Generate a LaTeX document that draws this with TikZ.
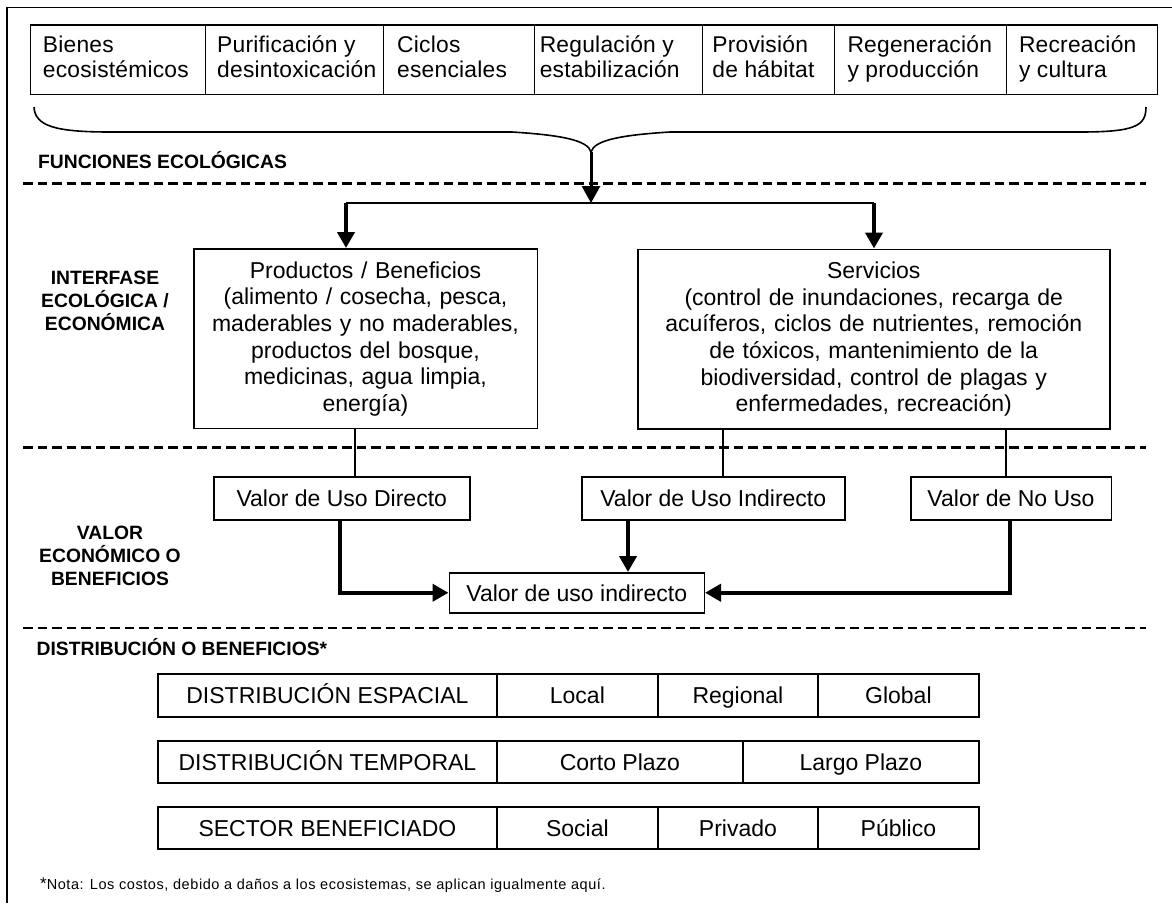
\documentclass[tikz,border=0pt]{standalone}
\usepackage{fontspec}
\setmainfont{Liberation Sans}
\newfontfamily\topfont{Liberation Sans}[LetterSpace=1]
\newfontfamily\notefont{Liberation Sans}[LetterSpace=4]
\usetikzlibrary{arrows.meta}
\newcommand{\lnst}{\rule[-5pt]{0pt}{22.5pt}}
\newcommand{\lbst}{\rule[-4pt]{0pt}{19pt}}
\tikzset{
 cellbox/.style={draw, line width=1.5pt, minimum height=69.5pt, inner sep=0pt, anchor=north west},
 toptext/.style={anchor=west, align=left, inner sep=0pt, font={\topfont\fontsize{22.8pt}{25pt}\selectfont}},
 bigbox/.style={draw, line width=1.5pt, align=center, inner xsep=4pt, inner ysep=0pt, minimum height=179.5pt, anchor=north west, font={\fontsize{23pt}{26.6pt}\selectfont}},
 valbox/.style={draw, line width=1.5pt, inner sep=0pt, anchor=north west, text height=16.5pt, text depth=0pt, font={\fontsize{23pt}{26pt}\selectfont}},
 tabcell/.style={draw, line width=1.8pt, inner sep=0pt, anchor=north west, text height=16.5pt, text depth=0pt, font={\fontsize{23pt}{26pt}\selectfont}},
 lab/.style={inner sep=0pt, font={\bfseries\fontsize{19.3pt}{23pt}\selectfont}},
 sepline/.style={line width=2.6pt, dash pattern=on 9.5pt off 5pt},
 thinline/.style={line width=1.5pt},
 bigarrow/.style={line width=3pt, -{Triangle[length=17pt,width=18pt]}},
 tharrow/.style={line width=4pt, -{Triangle[length=16pt,width=17pt]}},
 braceline/.style={line width=1.6pt},
 frameline/.style={line width=1.6pt},
}
\begin{document}
\begin{tikzpicture}[x=1pt,y=-1pt]
\fill[white] (0,0) rectangle (1172,903);
\useasboundingbox (0,0) rectangle (1172,903);

% frame
\draw[frameline] (6.7,903) -- (6.7,7.3) -- (1172,7.3);

% top row
\node[cellbox, minimum width=175pt] (c1) at (29.5,24) {};
\node[cellbox, minimum width=178.2pt] (c2) at (204.5,24) {};
\node[cellbox, minimum width=151.2pt] (c3) at (382.7,24) {};
\node[cellbox, minimum width=167.7pt] (c4) at (533.9,24) {};
\node[cellbox, minimum width=132.1pt] (c5) at (701.6,24) {};
\node[cellbox, minimum width=172.2pt] (c6) at (833.7,24) {};
\node[cellbox, minimum width=150.7pt] (c7) at (1005.9,24) {};
\node[toptext] (t1) at (42.7,58.75) {\lnst Bienes\\\lnst ecosistémicos};
\node[toptext] (t2) at (217,58.75) {\lnst Purificación y\\\lnst desintoxicación};
\node[toptext] (t3) at (397,58.75) {\lnst Ciclos\\\lnst esenciales};
\node[toptext] (t4) at (539.6,58.75) {\lnst Regulación y\\\lnst estabilización};
\node[toptext] (t5) at (712.2,58.75) {\lnst Provisión\\\lnst de hábitat};
\node[toptext] (t6) at (847.3,58.75) {\lnst Regeneración\\\lnst y producción};
\node[toptext] (t7) at (1018.8,58.75) {\lnst Recreación\\\lnst y cultura};

% brace
\coordinate (btip) at (591,152);
\draw[braceline] (34,107) .. controls (35,126) and (55,132) .. (110,132) -- (512,132) .. controls (560,135) and (588,140) .. (btip);
\draw[braceline] (btip) .. controls (594,140) and (622,135) .. (670,132) -- (1080,132) .. controls (1135,132) and (1146,126) .. (1146,107);

% labels
\node[lab, anchor=base west] (fe) at (38,168) {FUNCIONES ECOLÓGICAS};
\node[lab, anchor=north, align=center] (ie) at (105,269) {\lbst INTERFASE\\\lbst ECOLÓGICA /\\\lbst ECONÓMICA};
\node[lab, anchor=north, align=center] (ve) at (110,524.3) {\lbst VALOR\\\lbst ECONÓMICO O\\\lbst BENEFICIOS};
\node[lab, anchor=base west] (dist) at (36.4,655) {DISTRIBUCIÓN O BENEFICIOS*};

% separators
\draw[sepline] (23,183.5) -- (1146,183.5);
\draw[sepline] (23,447.5) -- (1146,447.5);
\draw[sepline] (23,628) -- (1146,628);

% interface boxes
\node[bigbox, minimum width=343.5pt, text width=335.5pt] (prod) at (193,248) {\lnst Productos / Beneficios\\\lnst (alimento / cosecha, pesca,\\\lnst maderables y no maderables,\\\lnst productos del bosque,\\\lnst medicinas, agua limpia,\\\lnst energía)};
\node[bigbox, minimum width=472pt, text width=464pt] (serv) at (637,248.5) {\lnst Servicios\\\lnst (control de inundaciones, recarga de\\\lnst acuíferos, ciclos de nutrientes, remoción\\\lnst de tóxicos, mantenimiento de la\\\lnst biodiversidad, control de plagas y\\\lnst enfermedades, recreación)};

% split arrows
\coordinate (split) at (591,203);
\coordinate (sl) at (346,203);
\coordinate (sr) at (874,203);
\draw[bigarrow] (btip) -- (split);
\draw[thinline] (sl) -- (sr);
\draw[tharrow] (sl) -- (346,0 |- prod.north);
\draw[tharrow] (sr) -- (874,0 |- serv.north);

% value boxes
\node[valbox, minimum width=256pt, minimum height=43pt] (vdir) at (213,476) {Valor de Uso Directo};
\node[valbox, minimum width=263pt, minimum height=43pt] (vind) at (581,476) {Valor de Uso Indirecto};
\node[valbox, minimum width=200.5pt, minimum height=43pt] (vno) at (910,476) {Valor de No Uso};
\node[valbox, minimum width=255pt, minimum height=40pt] (vtot) at (448.5,572) {Valor de uso indirecto};

\draw[thinline] (355,0 |- prod.south) -- (355,0 |- vdir.north);
\draw[thinline] (723,0 |- serv.south) -- (723,0 |- vind.north);
\draw[thinline] (1006,0 |- serv.south) -- (1006,0 |- vno.north);

\draw[tharrow] (340,0 |- vdir.south) |- (vtot.west);
\draw[tharrow] (628,0 |- vind.south) -- (628,0 |- vtot.north);
\draw[tharrow] (1010,0 |- vno.south) |- (vtot.east);

% distribution table
\node[tabcell, minimum width=339pt, minimum height=43.4pt] (r1a) at (157,673) {DISTRIBUCIÓN ESPACIAL};
\node[tabcell, minimum width=161pt, minimum height=43.4pt] (r1b) at (496,673) {Local};
\node[tabcell, minimum width=160pt, minimum height=43.4pt] (r1c) at (657,673) {Regional};
\node[tabcell, minimum width=161pt, minimum height=43.4pt] (r1d) at (817,673) {Global};

\node[tabcell, minimum width=339pt, minimum height=42.3pt] (r2a) at (157,740) {DISTRIBUCIÓN TEMPORAL};
\node[tabcell, minimum width=246pt, minimum height=42.3pt] (r2b) at (496,740) {Corto Plazo};
\node[tabcell, minimum width=236pt, minimum height=42.3pt] (r2c) at (742,740) {Largo Plazo};

\node[tabcell, minimum width=339pt, minimum height=42.3pt] (r3a) at (157,806) {SECTOR BENEFICIADO};
\node[tabcell, minimum width=161pt, minimum height=42.3pt] (r3b) at (496,806) {Social};
\node[tabcell, minimum width=160pt, minimum height=42.3pt] (r3c) at (657,806) {Privado};
\node[tabcell, minimum width=161pt, minimum height=42.3pt] (r3d) at (817,806) {Público};

% footnote
\node[inner sep=0pt, anchor=base west, font={\notefont\fontsize{14.5pt}{17pt}\selectfont}] (nota) at (40,889) {{\fontsize{17pt}{17pt}\selectfont *}Nota: Los costos, debido a daños a los ecosistemas, se aplican igualmente aquí.};
\end{tikzpicture}
\end{document}
